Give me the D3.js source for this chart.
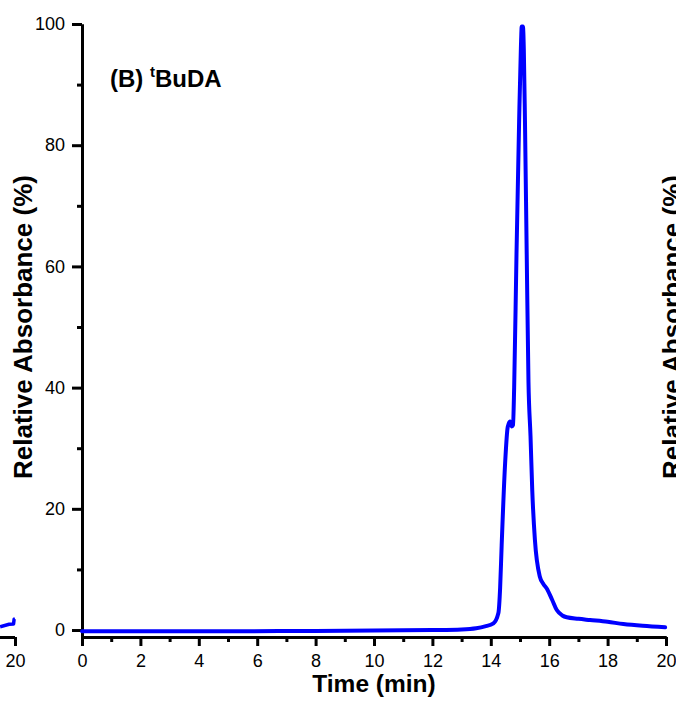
<!DOCTYPE html>
<html>
<head>
<meta charset="utf-8">
<script src="https://cdn.jsdelivr.net/npm/d3@7"></script>
<style>
  body { margin: 0; background: #fff; }
  svg text { font-family: "Liberation Sans", Arial, sans-serif; fill: #000; }
</style>
</head>
<body>
<script>
// chromatogram trace, panel (B)
const times = [0, 4, 8, 12, 13, 13.5, 13.8, 14.09, 14.26, 14.32, 14.37, 14.49, 14.58, 14.66, 14.72, 14.76,
  14.8, 14.88, 14.97, 15.03, 15.06, 15.1, 15.13, 15.17, 15.23, 15.29, 15.36, 15.42, 15.51, 15.68, 15.8, 15.91,
  16.1, 16.26, 16.45, 16.6, 17.0, 17.4, 18.0, 18.54, 19.2, 19.97]
const values = [-0.2, -0.2, -0.15, 0.0, 0.1, 0.3, 0.6, 1.1, 2.8, 7, 13.7, 27.5, 33.5, 34.4, 33.6, 33.8,
  40, 62, 84, 96, 99.6, 99.6, 96, 84, 62, 41, 32, 23, 14.9, 8.8, 7.6, 6.9,
  5.0, 3.3, 2.4, 2.1, 1.85, 1.65, 1.35, 1.0, 0.7, 0.45]

// tail end of panel (A) peeking in on the left
const prevTimes = [19.49, 19.8, 19.95, 19.97, 20]
const prevValues = [0.55, 0.95, 1.0, 1.8, 1.85]

const xTicks = [0, 2, 4, 6, 8, 10, 12, 14, 16, 18, 20]
const xMinor = [1, 3, 5, 7, 9, 11, 13, 15, 17, 19]
const yTicks = [0, 20, 40, 60, 80, 100]
const yMinor = [10, 30, 50, 70, 90]

const width = 676
const height = 704
const blue = "#0000ff"

const svg = d3.select("body").append("svg")
  .attr("width", width)
  .attr("height", height)

const x = d3.scaleLinear().domain([0, 20]).range([82, 666])
const y = d3.scaleLinear().domain([-1.2, 100]).range([637.3, 24])

// previous panel shares the y scale, its 20 sits at x=15
const xPrev = d3.scaleLinear().domain([0, 20]).range([15 - 584, 15])

function styleAxis(g) {
  g.selectAll("path.domain").attr("stroke", "#000").attr("stroke-width", 3)
  g.selectAll(".tick line").attr("stroke", "#000").attr("stroke-width", 3)
  g.selectAll(".tick text").style("font-size", "18px").attr("fill", "#000")
}

// ---- left fragment
const prev = svg.append("g")
prev.append("g")
  .attr("transform", "translate(0,637)")
  .call(d3.axisBottom(xPrev).tickValues([20]).tickSize(9).tickSizeOuter(0).tickPadding(8))
  .call(styleAxis)
  .call(g => g.select("path.domain").attr("d", "M0,0.5H" + xPrev(20)))

prev.append("path")
  .datum(d3.zip(prevTimes, prevValues))
  .attr("fill", "none")
  .attr("stroke", blue)
  .attr("stroke-width", 3.5)
  .attr("stroke-linejoin", "round")
  .attr("d", d3.line().x(d => xPrev(d[0])).y(d => y(d[1])))

// ---- main panel
svg.append("g")
  .attr("transform", "translate(0,637)")
  .call(d3.axisBottom(x).tickValues(xMinor).tickSize(5).tickFormat("").tickSizeOuter(0))
  .call(styleAxis)

svg.append("g")
  .attr("transform", "translate(0,637)")
  .call(d3.axisBottom(x).tickValues(xTicks).tickSize(9).tickSizeOuter(0).tickPadding(8))
  .call(styleAxis)

svg.append("g")
  .attr("transform", "translate(82,0)")
  .call(d3.axisLeft(y).tickValues(yMinor).tickSize(5).tickFormat("").tickSizeOuter(0))
  .call(styleAxis)

svg.append("g")
  .attr("transform", "translate(82,0)")
  .call(d3.axisLeft(y).tickValues(yTicks).tickSize(10).tickSizeOuter(0).tickPadding(7))
  .call(styleAxis)

svg.append("path")
  .datum(d3.zip(times, values))
  .attr("fill", "none")
  .attr("stroke", blue)
  .attr("stroke-width", 4)
  .attr("stroke-linejoin", "round")
  .attr("stroke-linecap", "round")
  .attr("d", d3.line().curve(d3.curveMonotoneX).x(d => x(d[0])).y(d => y(d[1])))

// titles
svg.append("text")
  .attr("x", 374)
  .attr("y", 692)
  .attr("text-anchor", "middle")
  .style("font-size", "24.5px")
  .style("font-weight", "bold")
  .text("Time (min)")

svg.append("text")
  .attr("transform", "translate(32,327) rotate(-90)")
  .attr("text-anchor", "middle")
  .style("font-size", "26px")
  .style("font-weight", "bold")
  .text("Relative Absorbance (%)")

// y label of the next panel, cut by the edge
svg.append("text")
  .attr("transform", "translate(681,327) rotate(-90)")
  .attr("text-anchor", "middle")
  .style("font-size", "26px")
  .style("font-weight", "bold")
  .text("Relative Absorbance (%)")

const label = svg.append("text")
  .attr("x", 110)
  .attr("y", 87)
  .style("font-size", "24px")
  .style("font-weight", "bold")
label.append("tspan").text("(B) ")
label.append("tspan").attr("dy", -10).style("font-size", "15px").text("t")
label.append("tspan").attr("dy", 10).text("BuDA")
</script>
</body>
</html>
